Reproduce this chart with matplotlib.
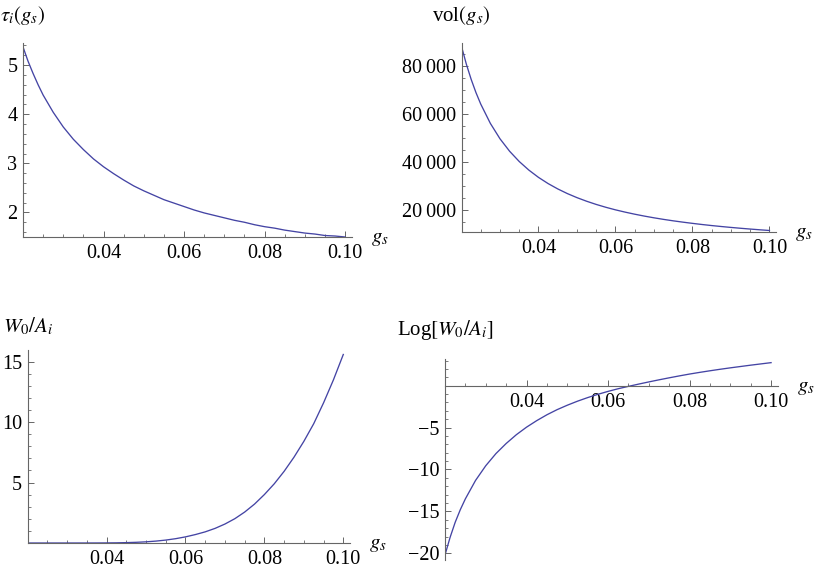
import matplotlib
matplotlib.use("Agg")
import matplotlib.pyplot as plt
from matplotlib.ticker import FixedLocator, MultipleLocator, FuncFormatter

plt.rcParams['font.family'] = ['Liberation Serif', 'DejaVu Serif']
plt.rcParams['mathtext.fontset'] = 'stix'

# string coupling values (x axis of every panel)
gs = [0.02000, 0.02125, 0.02250, 0.02375, 0.02500, 0.02750, 0.03000, 0.03250,
      0.03500, 0.03750, 0.04000, 0.04250, 0.04500, 0.04750, 0.05000, 0.05250,
      0.05500, 0.05750, 0.06000, 0.06250, 0.06500, 0.06750, 0.07000, 0.07250,
      0.07500, 0.07750, 0.08000, 0.08250, 0.08500, 0.08750, 0.09000, 0.09250,
      0.09500, 0.09750, 0.10000]

# values
tau = [5.37, 5.08, 4.83, 4.60, 4.39, 4.04, 3.74, 3.49,
       3.28, 3.09, 2.93, 2.79, 2.66, 2.54, 2.44, 2.35,
       2.26, 2.19, 2.12, 2.05, 1.99, 1.94, 1.89, 1.84,
       1.80, 1.75, 1.71, 1.68, 1.64, 1.61, 1.58, 1.56,
       1.53, 1.52, 1.50]
vol = [88400, 81000, 74650, 69100, 64260, 56190, 49760, 44550,
       40260, 36670, 33630, 31040, 28810, 26860, 25160, 23660,
       22320, 21130, 20060, 19110, 18240, 17450, 16730, 16070,
       15470, 14920, 14410, 13930, 13490, 13090, 12710, 12360,
       12030, 11720, 11430]
w0_over_a = [0.0, 0.0, 0.0, 0.0, 0.0, 0.0, 0.0001, 0.0003,
             0.001, 0.003, 0.007, 0.015, 0.031, 0.057, 0.097, 0.157,
             0.242, 0.357, 0.507, 0.698, 0.923, 1.21, 1.57, 2.01,
             2.56, 3.22, 4.01, 4.90, 5.93, 7.10, 8.41, 9.87,
             11.6, 13.5, 15.6]
log_w0_over_a = [-20.2, -18.1, -16.3, -14.8, -13.5, -11.3, -9.55, -8.1,
                 -6.9, -5.85, -4.95, -4.17, -3.47, -2.86, -2.33, -1.85,
                 -1.42, -1.03, -0.68, -0.36, -0.08, 0.19, 0.45, 0.70,
                 0.94, 1.17, 1.39, 1.59, 1.78, 1.96, 2.13, 2.29,
                 2.45, 2.60, 2.75]

x_major = [0.04, 0.06, 0.08, 0.10]

LINE = '#4444a4'
AXC = '#666666'
W, H = 816, 572


def px_axes(fig, left, right, top, bottom):
    return fig.add_axes([left / W, 1 - bottom / H, (right - left) / W, (bottom - top) / H])


def style(ax, ylim, y_major, y_minor, yfmt, label, label_dy, xaxis_at=None):
    ax.set_xlim(0.02, 0.1017)
    ax.set_ylim(*ylim)
    for s in ('top', 'right'):
        ax.spines[s].set_visible(False)
    for s in ('left', 'bottom'):
        ax.spines[s].set_color(AXC)
        ax.spines[s].set_linewidth(0.8)
    if xaxis_at is not None:
        ax.spines['bottom'].set_position(('data', xaxis_at))
    ax.xaxis.set_major_locator(FixedLocator(x_major))
    ax.xaxis.set_minor_locator(MultipleLocator(0.005))
    ax.xaxis.set_major_formatter(FuncFormatter(lambda v, p: f'{v:.2f}'))
    ax.yaxis.set_major_locator(FixedLocator(y_major))
    ax.yaxis.set_minor_locator(MultipleLocator(y_minor))
    ax.yaxis.set_major_formatter(FuncFormatter(yfmt))
    ax.tick_params(which='both', direction='in', color=AXC, labelsize=14.5)
    ax.tick_params(which='major', length=4.2, width=0.7)
    ax.tick_params(which='minor', length=2.2, width=0.6)
    ax.tick_params(axis='x', pad=5)
    ax.tick_params(axis='y', pad=4)
    ax.patch.set_visible(False)
    y0 = xaxis_at if xaxis_at is not None else ylim[0]
    ax.annotate(r'$g_s$', xy=(1, y0), xycoords=('axes fraction', 'data'),
                xytext=(14, -1), textcoords='offset points',
                ha='left', va='center', fontsize=15, clip_on=False)
    ax.annotate(label, xy=(0, 1), xycoords='axes fraction',
                xytext=(0, label_dy), textcoords='offset points',
                ha='center', va='center', fontsize=15, clip_on=False)


fig = plt.figure(figsize=(W / 100, H / 100), dpi=100)

ax1 = px_axes(fig, 23, 352, 43, 237)
ax1.plot(gs, tau, color=LINE, lw=0.95)
style(ax1, (1.5, 5.45), [2, 3, 4, 5], 0.2, lambda v, p: f'{v:g}',
      r'$\tau_i(g_s)$', 20)

ax2 = px_axes(fig, 461.5, 776, 43, 232)
ax2.plot(gs, vol, color=LINE, lw=0.95)
style(ax2, (10800, 89800), [20000, 40000, 60000, 80000], 5000,
      lambda v, p: f'{int(v):,}'.replace(',', '\u2009'),
      r'vol$(g_s)$', 20)

ax3 = px_axes(fig, 27.7, 350, 350, 543)
ax3.plot(gs, w0_over_a, color=LINE, lw=0.95)
style(ax3, (0, 15.97), [5, 10, 15], 1, lambda v, p: f'{v:g}',
      r'$W_0/A_i$', 17)

ax4 = px_axes(fig, 445, 778, 359.3, 560)
ax4.plot(gs, log_w0_over_a, color=LINE, lw=0.95)
style(ax4, (-20.8, 3.15), [-20, -15, -10, -5], 1,
      lambda v, p: f'{v:g}'.replace('-', '\u2212'),
      r'Log$[W_0/A_i]$', 21, xaxis_at=0)

fig.savefig('out.png', dpi=100)
